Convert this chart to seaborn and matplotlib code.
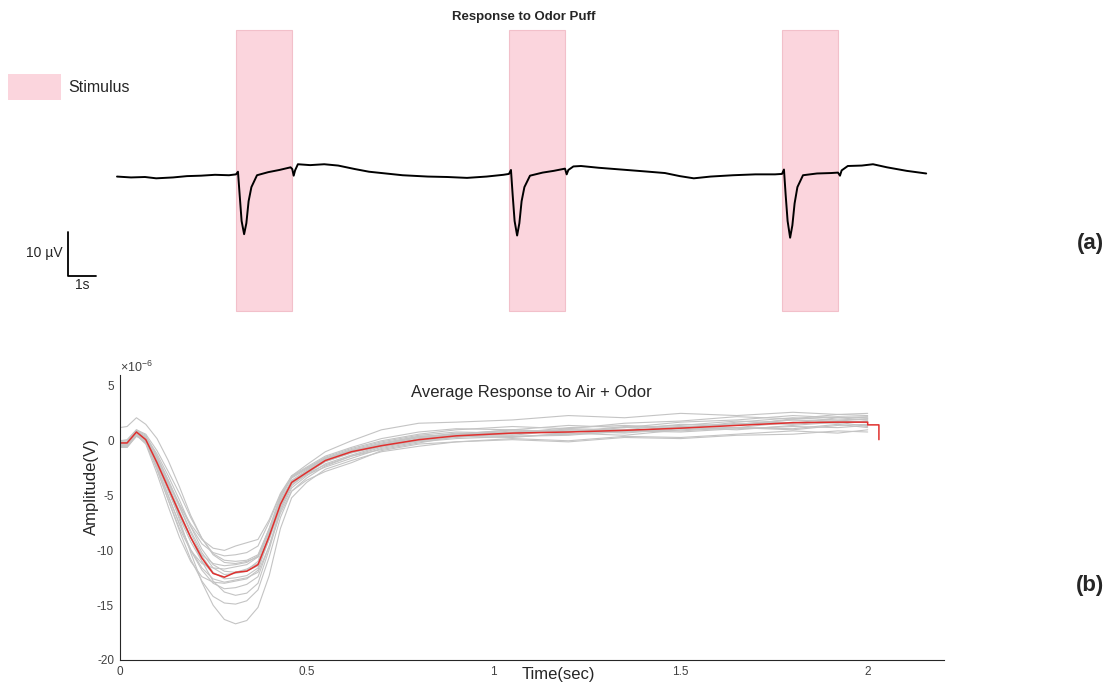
import numpy as np
import pandas as pd
import matplotlib.pyplot as plt
import seaborn as sns
from matplotlib.patches import Patch, Rectangle

# ---- panel (a): raw trace, seconds from trace start / microvolts ----
stim_onsets = [4.25, 14.0, 23.75]
stim_duration = 2.0

trace_t = [0.0, 0.5, 1.0, 1.4, 2.0, 2.5, 3.0, 3.5, 4.0, 4.25,
           4.32, 4.38, 4.45, 4.54, 4.62, 4.70, 4.80, 5.0, 5.4, 5.8,
           6.2, 6.26, 6.31, 6.36, 6.46, 6.9, 7.4, 7.9, 8.5, 9.0,
           9.6, 10.2, 11.1, 11.8, 12.5, 13.2, 13.8, 14.0,
           14.07, 14.13, 14.20, 14.29, 14.37, 14.45, 14.55, 14.75, 15.2, 15.6,
           16.0, 16.06, 16.12, 16.3, 16.57, 17.2, 18.0, 18.8, 19.57, 20.1,
           20.6, 21.2, 22.0, 22.8, 23.5, 23.75,
           23.82, 23.88, 23.95, 24.04, 24.12, 24.20, 24.30, 24.5, 25.0, 25.5,
           25.75, 25.82, 25.88, 26.1, 26.6, 27.0, 27.5, 28.2, 28.9]
trace_v = [0.1, -0.1, 0.0, -0.3, -0.1, 0.2, 0.3, 0.5, 0.4, 0.6,
           1.2, -4.0, -10.0, -13.0, -10.5, -5.5, -2.3, 0.4, 1.1, 1.6,
           2.2, 1.8, 0.3, 1.5, 2.9, 2.7, 2.9, 2.6, 1.8, 1.2,
           0.8, 0.4, 0.1, 0.0, -0.2, 0.1, 0.5, 0.7,
           1.6, -4.0, -10.0, -13.3, -10.5, -5.5, -2.3, 0.3, 1.0, 1.4,
           1.9, 0.6, 1.6, 2.4, 2.5, 2.1, 1.7, 1.3, 0.9, 0.2,
           -0.3, 0.1, 0.4, 0.6, 0.6, 0.7,
           1.7, -4.0, -10.0, -13.8, -11.0, -6.0, -2.3, 0.4, 0.8, 0.9,
           1.0, 0.3, 1.5, 2.5, 2.6, 2.9, 2.2, 1.4, 0.8]

# ---- panel (b): single trials and average, x1e-6 V ----
time_grid = [0.00, 0.02, 0.045, 0.07, 0.10, 0.13, 0.16, 0.19, 0.22, 0.25,
             0.28, 0.31, 0.34, 0.37, 0.40, 0.43, 0.46, 0.50, 0.55, 0.62,
             0.70, 0.80, 0.90, 1.05, 1.20, 1.35, 1.50, 1.65, 1.80, 1.92, 2.00]

trials = {
    'A': [1.2, 1.3, 2.1, 1.5, 0.2, -1.8, -4.2, -6.8, -8.9, -10.4, -11.1, -11.2, -11.0, -10.6, -8.4, -5.2, -3.2, -2.2, -1.0, 0.0, 1.0, 1.6, 1.7, 1.9, 2.3, 2.1, 2.5, 2.3, 2.6, 2.4, 2.5],
    'B': [-0.6, -0.6, 0.4, 0.0, -1.6, -4.2, -7.2, -10.2, -12.9, -15.0, -16.3, -16.7, -16.4, -15.2, -12.3, -8.0, -5.2, -3.8, -2.6, -1.8, -1.0, -0.5, -0.1, 0.1, -0.1, 0.3, 0.2, 0.5, 0.6, 0.9, 0.8],
    'C': [-0.4, -0.5, 0.6, -0.2, -2.6, -5.4, -8.2, -10.8, -12.8, -14.2, -14.8, -14.9, -14.6, -13.6, -10.6, -7.0, -4.6, -3.4, -2.3, -1.4, -0.8, -0.2, 0.4, 0.3, 0.7, 0.5, 1.0, 1.2, 1.0, 1.4, 1.5],
    'D': [-0.1, -0.2, 0.9, 0.3, -1.8, -4.0, -6.4, -8.8, -11.0, -12.8, -13.8, -14.1, -13.9, -13.0, -9.9, -6.4, -4.3, -3.2, -2.1, -1.3, -0.5, 0.2, 0.6, 1.0, 0.8, 1.3, 1.1, 1.7, 2.1, 1.9, 2.0],
    'E': [-0.3, -0.3, 0.7, 0.0, -2.4, -5.0, -7.6, -10.0, -11.8, -13.0, -13.5, -13.4, -13.1, -12.4, -9.6, -6.2, -4.1, -3.0, -1.9, -1.1, -0.4, 0.3, 0.7, 0.6, 1.1, 1.0, 1.5, 1.4, 2.0, 2.2, 2.1],
    'F': [-0.5, -0.4, 0.5, -0.3, -3.0, -6.0, -8.8, -11.0, -12.4, -12.9, -13.0, -12.8, -12.6, -11.8, -8.9, -5.7, -3.8, -2.8, -1.7, -0.9, -0.2, 0.4, 0.5, 0.9, 0.6, 0.8, 1.2, 1.0, 1.4, 1.7, 1.3],
    'G': [0.0, 0.0, 1.0, 0.5, -1.4, -3.6, -6.0, -8.4, -10.5, -12.0, -12.6, -12.5, -12.3, -11.6, -8.8, -5.9, -3.9, -3.0, -2.2, -1.4, -0.6, 0.0, 0.3, 0.7, 0.9, 0.7, 1.1, 1.6, 1.5, 1.8, 1.7],
    'H': [-0.2, -0.3, 0.8, 0.1, -2.2, -4.6, -7.0, -9.2, -11.0, -12.1, -12.4, -12.0, -11.7, -11.2, -8.6, -5.6, -3.6, -2.7, -1.6, -0.8, -0.1, 0.5, 0.8, 0.7, 1.2, 1.4, 1.2, 1.5, 1.9, 1.7, 1.8],
    'I': [-0.3, -0.2, 0.7, 0.2, -1.7, -3.8, -6.0, -8.2, -10.2, -11.6, -12.2, -12.1, -11.9, -11.4, -9.0, -6.1, -4.0, -3.1, -2.4, -1.6, -0.7, -0.1, 0.2, 0.4, 0.5, 0.9, 0.8, 1.1, 1.3, 1.2, 1.4],
    'J': [-0.1, -0.1, 0.9, 0.4, -1.2, -3.2, -5.4, -7.8, -9.9, -11.3, -11.9, -12.0, -11.8, -11.0, -8.2, -5.2, -3.4, -2.6, -1.6, -0.9, -0.3, 0.4, 0.6, 1.0, 0.8, 1.2, 1.4, 1.8, 1.6, 2.1, 1.9],
    'K': [-0.6, -0.5, 0.6, -0.1, -2.6, -5.4, -8.0, -10.0, -11.2, -11.6, -11.7, -11.5, -11.3, -10.6, -8.0, -5.4, -3.7, -2.8, -1.8, -1.0, -0.4, 0.1, 0.6, 0.5, 1.0, 0.8, 1.3, 1.5, 1.9, 1.8, 2.0],
    'L': [-0.4, -0.4, 0.6, 0.0, -2.0, -4.4, -6.8, -8.9, -10.4, -11.2, -11.4, -11.3, -11.1, -10.5, -8.1, -5.5, -3.7, -2.9, -1.9, -1.1, -0.5, 0.0, 0.5, 0.4, 0.6, 1.0, 0.9, 1.2, 1.1, 1.5, 1.2],
    'M': [0.0, 0.1, 1.0, 0.6, -0.9, -2.8, -4.8, -7.0, -8.9, -10.3, -10.9, -11.0, -10.9, -10.4, -8.0, -5.0, -3.3, -2.5, -1.5, -0.7, 0.0, 0.6, 1.0, 1.3, 1.1, 1.6, 1.8, 2.2, 2.0, 2.4, 2.3],
    'N': [-0.2, -0.2, 0.8, 0.3, -1.5, -3.6, -5.8, -7.8, -9.4, -10.2, -10.5, -10.4, -10.2, -9.6, -7.4, -4.9, -3.3, -2.5, -1.6, -0.9, -0.3, 0.3, 0.4, 0.8, 1.0, 0.9, 1.3, 1.2, 1.7, 1.6, 1.8],
    'O': [-0.3, -0.3, 0.7, 0.2, -1.8, -3.8, -5.8, -7.6, -9.0, -9.8, -10.0, -9.6, -9.3, -9.0, -7.2, -4.8, -3.2, -2.4, -1.4, -0.6, 0.2, 0.8, 1.1, 1.0, 1.4, 1.2, 1.7, 1.9, 2.3, 2.1, 2.2],
    'P': [-0.5, -0.6, 0.5, -0.2, -2.4, -5.0, -7.6, -9.9, -11.6, -12.6, -12.9, -12.7, -12.5, -12.0, -9.6, -6.6, -4.6, -3.6, -2.8, -2.0, -0.9, -0.3, -0.1, 0.2, 0.0, 0.4, 0.3, 0.6, 0.9, 0.7, 1.0],
}

avg_t = time_grid + [2.00, 2.03, 2.03]
avg_v = [-0.2, -0.2, 0.8, 0.1, -2.0, -4.3, -6.6, -8.8, -10.7, -12.1,
         -12.45, -12.0, -11.9, -11.3, -8.7, -5.8, -3.8, -2.9, -1.8, -1.0,
         -0.45, 0.1, 0.45, 0.7, 0.8, 0.95, 1.15, 1.4, 1.65, 1.7, 1.7,
         1.45, 1.45, 0.1]

sns.set_theme(style='white')
plt.rcParams['font.family'] = ['Liberation Sans', 'DejaVu Sans']
plt.rcParams['mathtext.fontset'] = 'custom'
plt.rcParams['mathtext.rm'] = 'Liberation Sans'
plt.rcParams['axes.unicode_minus'] = False

W, H = 1107, 683
fig = plt.figure(figsize=(W / 100, H / 100), dpi=100)

# top panel in data units: 28 px per second, 4.4 px per microvolt
ax_top = fig.add_axes([0, 1 - 330 / H, 1, 330 / H])
ax_top.set_xlim(-117 / 28, (W - 117) / 28)
ax_top.set_ylim(-(330 - 177) / 4.4, 177 / 4.4)
ax_top.axis('off')

pink = '#fbd5dd'
for on in stim_onsets:
    ax_top.add_patch(Rectangle((on, -30.45), stim_duration, 63.85,
                               facecolor=pink, edgecolor='#f2c0ca', lw=0.8, zorder=0))

sns.lineplot(x=trace_t, y=trace_v, sort=False, estimator=None, errorbar=None,
             color='black', lw=1.4, ax=ax_top)

# scale bar
ax_top.plot([-1.75, -1.75, -0.75], [-12.4, -22.4, -22.4], color='black', lw=1.3)
ax_top.text(-1.95, -17.3, '10 µV', ha='right', va='center', fontsize=10)
ax_top.text(-1.25, -24.6, '1s', ha='center', va='center', fontsize=10)

ax_top.legend(handles=[Patch(facecolor=pink, edgecolor='none', label='Stimulus')],
              loc='upper left', bbox_to_anchor=(8 / W, 1 - 74 / H),
              bbox_transform=fig.transFigure, frameon=False, borderpad=0,
              borderaxespad=0, handlelength=3.3, handleheight=2.1,
              handletextpad=0.45, fontsize=11.5)

fig.text(524 / W, 1 - 17 / H, 'Response to Odor Puff', ha='center', va='center',
         fontsize=9.5, weight='bold')
fig.text(1090 / W, 1 - 243 / H, '(a)', ha='center', va='center',
         fontsize=16, weight='bold')

# bottom panel
ax = fig.add_axes([119.6 / W, 1 - 660 / H, (944 - 119.6) / W, (660 - 375) / H])

rows = []
for name, vals in trials.items():
    for t, v in zip(time_grid, vals):
        rows.append((name, t, v))
trial_df = pd.DataFrame(rows, columns=['trial', 'time', 'amp'])

sns.lineplot(data=trial_df, x='time', y='amp', units='trial', estimator=None,
             errorbar=None, color='#c4c4c4', lw=0.8, ax=ax)
sns.lineplot(x=avg_t, y=avg_v, sort=False, estimator=None, errorbar=None,
             color='#e0302e', lw=1.1, ax=ax)

ax.set_xlim(0, 2.204)
ax.set_ylim(-20, 6)
ax.set_xticks([0, 0.5, 1, 1.5, 2])
ax.set_xticklabels(['0', '0.5', '1', '1.5', '2'])
ax.set_yticks([-20, -15, -10, -5, 0, 5])
ax.tick_params(direction='in', length=5, width=0.8, color='#262626',
               labelsize=8.5, labelcolor='#404040', pad=4)
for side in ['top', 'right']:
    ax.spines[side].set_visible(False)
for side in ['left', 'bottom']:
    ax.spines[side].set_color('#262626')
    ax.spines[side].set_linewidth(0.8)

ax.set_ylabel('Amplitude(V)', fontsize=12, va='center', color='#262626')
ax.yaxis.set_label_coords(-0.0347, 0.608)
ax.set_xlabel('Time(sec)', fontsize=12, va='center', color='#262626')
ax.xaxis.set_label_coords(0.532, -0.0526)
ax.set_title('Average Response to Air + Odor', fontsize=12, y=0.937,
             va='center', pad=0, color='#262626')
ax.text(0, 1.0105, r'$\times\mathregular{10^{-6}}$', transform=ax.transAxes,
        ha='left', va='baseline', fontsize=9, color='#404040')

fig.text(1090 / W, 1 - 585 / H, '(b)', ha='center', va='center',
         fontsize=16, weight='bold')

fig.savefig('out.png', dpi=100)
plt.close(fig)
